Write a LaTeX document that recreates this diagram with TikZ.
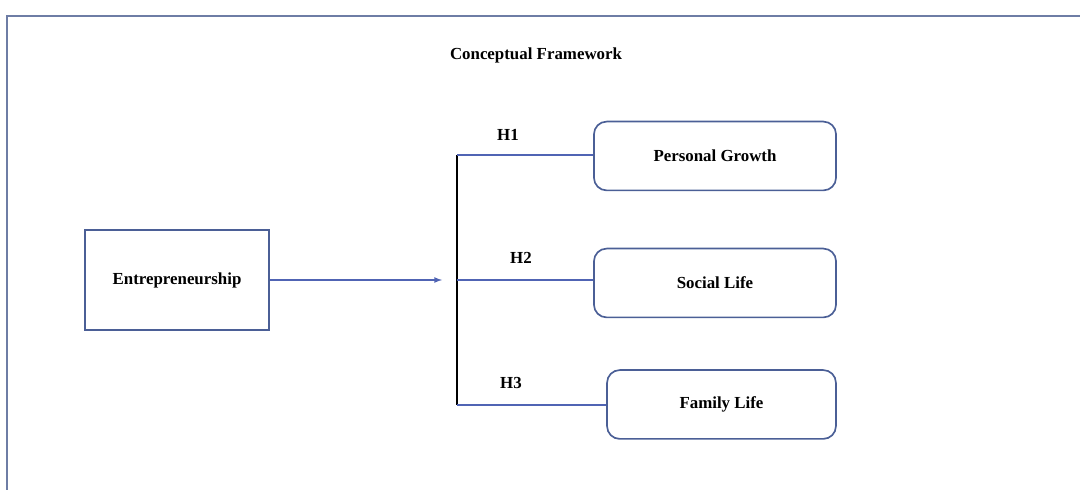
\documentclass[tikz,border=0pt]{standalone}
\usepackage{fontspec}
\setmainfont{Liberation Serif}
\definecolor{framegray}{RGB}{110,125,165}
\definecolor{boxblue}{RGB}{75,95,150}
\definecolor{lineblue}{RGB}{80,100,180}

\begin{document}
\begin{tikzpicture}[x=0.025cm,y=-0.025cm,
    lbl/.style={font=\bfseries\large},
    sqbox/.style={draw=boxblue,line width=1.4pt,minimum width=4.6cm,minimum height=2.48cm,font=\bfseries\large},
    rbox/.style={draw=boxblue,line width=1.2pt,rounded corners=9pt,minimum height=1.72cm,font=\bfseries\large},
    link/.style={draw=lineblue,line width=0.9pt}]
      \useasboundingbox (0,0) rectangle (1080,490);

      % Outer frame (top and left edges only)
      \draw[framegray,line width=1.8pt] (7,490) -- (7,16) -- (1080,16);

      % Title
      \node[lbl] (title) at (536,55) {Conceptual Framework};

      % Independent variable
      \node[sqbox] (entre) at (177,280) {Entrepreneurship};

      % Trunk of the fork
      \coordinate (top) at (457,155);
      \coordinate (mid) at (457,280);
      \coordinate (bot) at (457,405);
      \coordinate (tip) at (442,280);
      \draw[black,line width=1.4pt] (top) -- (bot);

      % Dependent variables
      \node[rbox,minimum width=6.05cm] (growth) at (715,156) {Personal Growth};
      \node[rbox,minimum width=6.05cm] (social) at (715,283) {Social Life};
      \node[rbox,minimum width=5.72cm] (family) at (721.5,404.5) {Family Life};

      % Arrow into the trunk
      \draw[link,-latex] (entre) -- (tip);

      % Branches with hypothesis labels
      \draw[link] (top) -- (top -| growth.west);
      \draw[link] (mid) -- (mid -| social.west);
      \draw[link] (bot) -- (bot -| family.west);
      \node[lbl] (h1) at (508,135) {H1};
      \node[lbl] (h2) at (521,258) {H2};
      \node[lbl] (h3) at (511,383) {H3};
\end{tikzpicture}
\end{document}
